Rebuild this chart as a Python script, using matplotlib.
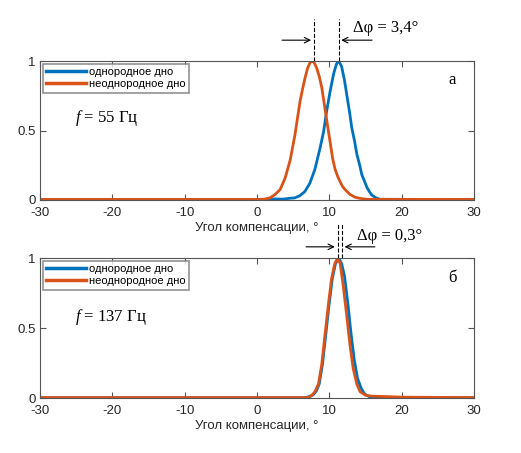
import numpy as np
import matplotlib.pyplot as plt

plt.rcParams['font.family'] = ['Liberation Sans', 'DejaVu Sans']
plt.rcParams['axes.unicode_minus'] = False
plt.rcParams['mathtext.fontset'] = 'custom'
plt.rcParams['mathtext.it'] = 'Liberation Serif:italic'
plt.rcParams['mathtext.rm'] = 'Liberation Serif'

# panel a, f = 55 Hz
top_blue_x = [-30, 0, 1.5, 2.5, 3.5, 4.5, 5.2, 5.9, 6.6, 7.3, 8.0, 8.7, 9.2, 9.6, 10.1,
              10.6, 11.0, 11.3, 11.7, 12.1, 12.4, 12.8, 13.1, 13.5, 13.8, 14.2, 14.5,
              14.9, 15.2, 15.6, 15.9, 16.5, 17.0, 30]
top_blue_y = [0.003, 0.003, 0.003, 0.008, 0.006, 0.012, 0.015, 0.03, 0.06, 0.12, 0.22,
              0.37, 0.49, 0.63, 0.78, 0.91, 0.98, 1.0, 0.96, 0.86, 0.76, 0.63, 0.52,
              0.42, 0.33, 0.25, 0.18, 0.13, 0.09, 0.055, 0.034, 0.014, 0.005, 0.003]
top_orange_x = [-30, 0, 1.0, 1.8, 2.5, 3.2, 3.9, 4.6, 5.25, 5.6, 5.95, 6.3, 6.65, 7.0,
                7.35, 7.8, 8.25, 8.6, 8.95, 9.3, 9.65, 10.1, 10.45, 10.8, 11.15, 11.5,
                11.85, 12.2, 12.85, 13.55, 14.2, 15.2, 30]
top_orange_y = [0.004, 0.004, 0.006, 0.015, 0.04, 0.075, 0.16, 0.29, 0.47, 0.59, 0.71,
                0.8, 0.88, 0.95, 0.99, 1.0, 0.95, 0.89, 0.81, 0.69, 0.57, 0.42, 0.3,
                0.22, 0.17, 0.13, 0.095, 0.074, 0.04, 0.02, 0.012, 0.005, 0.004]

# panel б, f = 137 Hz
bot_blue_x = [-30, 6.5, 7.3, 7.8, 8.2, 8.6, 9.05, 9.5, 9.95, 10.4, 10.85, 11.3, 11.7,
              12.1, 12.55, 13.0, 13.45, 13.9, 14.4, 14.85, 15.5, 16.5, 30]
bot_blue_y = [0.002, 0.002, 0.01, 0.025, 0.05, 0.1, 0.24, 0.45, 0.66, 0.85, 0.96, 1.0,
              0.96, 0.87, 0.68, 0.46, 0.27, 0.14, 0.07, 0.03, 0.01, 0.003, 0.002]
bot_orange_x = [-30, 7.0, 7.6, 8.0, 8.5, 8.95, 9.4, 9.85, 10.3, 10.75, 11.15, 11.5,
                11.9, 12.4, 12.85, 13.3, 13.8, 14.25, 15.0, 15.9, 18, 20, 30]
bot_orange_y = [0.003, 0.003, 0.02, 0.045, 0.1, 0.24, 0.45, 0.66, 0.85, 0.96, 1.0,
                0.96, 0.81, 0.59, 0.38, 0.21, 0.1, 0.045, 0.02, 0.013, 0.01, 0.006, 0.003]

labels = ['однородное дно', 'неоднородное дно']
xticks = [-30, -20, -10, 0, 10, 20, 30]
yticks = [0, 0.5, 1]
xlabel = 'Угол компенсации, °'

blue = '#0072BD'
orange = '#D95319'
edge = '#555555'
serif = ['Liberation Serif', 'DejaVu Serif']

fig = plt.figure(figsize=(5.21, 4.53), dpi=100)
ax1 = fig.add_axes([0.0768, 0.5585, 0.833, 0.3068])
ax2 = fig.add_axes([0.0768, 0.1214, 0.833, 0.309])

panels = [
    (ax1, top_blue_x, top_blue_y, top_orange_x, top_orange_y, 'а', r'$f$ = 55 Гц', 0.59,
     (7.88, 11.34), 1.30, 1.15, (3.46, 15.9), r'Δφ = 3,4°', (13.27, 1.24)),
    (ax2, bot_blue_x, bot_blue_y, bot_orange_x, bot_orange_y, 'б', r'$f$ = 137 Гц', 0.58,
     (11.16, 11.8), 1.24, 1.08, (6.78, 16.3), r'Δφ = 0,3°', (13.83, 1.16)),
]

for (ax, bx, by, ox, oy, letter, ftxt, fy, dashes, dtop, ay, astart, dtxt, dpos) in panels:
    ax.plot(bx, by, color=blue, lw=2.0, label=labels[0])
    ax.plot(ox, oy, color=orange, lw=2.0, label=labels[1])
    ax.set_xlim(-30, 30)
    ax.set_ylim(0, 1)
    ax.set_xticks(xticks)
    ax.set_yticks(yticks)
    ax.set_yticklabels(['0', '0.5', '1'])
    ax.tick_params(direction='in', top=True, right=True, length=4, width=0.8,
                   colors=edge, labelcolor='#262626', labelsize=9.5)
    ax.tick_params(axis='x', pad=5)
    ax.tick_params(axis='y', pad=3)
    for s in ax.spines.values():
        s.set_color(edge)
        s.set_linewidth(0.8)
    ax.set_xlabel(xlabel, fontsize=9.5, color='#262626', labelpad=2)
    leg = ax.legend(loc='upper left', fontsize=8, frameon=True, fancybox=False,
                    handlelength=3.6, borderaxespad=0.25, borderpad=0.3,
                    labelspacing=0.2, handletextpad=0.3)
    for ln in leg.get_lines():
        ln.set_linewidth(2.5)
    leg.get_frame().set_edgecolor('#777777')
    leg.get_frame().set_linewidth(1.2)
    ax.text(26.5, 0.86, letter, family=serif, fontsize=12, va='center')
    ax.text(-25.2, fy, ftxt, family=serif, fontsize=12, va='center')

    for d in dashes:
        ax.plot([d, d], [1, dtop], color='black', ls='--', lw=0.8, clip_on=False)
    ax.annotate('', xy=(dashes[0] - 0.4, ay), xytext=(astart[0], ay),
                arrowprops=dict(arrowstyle='->', lw=0.8, color='black',
                                shrinkA=0, shrinkB=0),
                annotation_clip=False)
    ax.annotate('', xy=(dashes[1] + 0.3, ay), xytext=(astart[1], ay),
                arrowprops=dict(arrowstyle='->', lw=0.8, color='black',
                                shrinkA=0, shrinkB=0),
                annotation_clip=False)
    ax.text(dpos[0], dpos[1], dtxt, family=serif, fontsize=12, va='center',
            clip_on=False)

fig.savefig('out.png', dpi=100)
